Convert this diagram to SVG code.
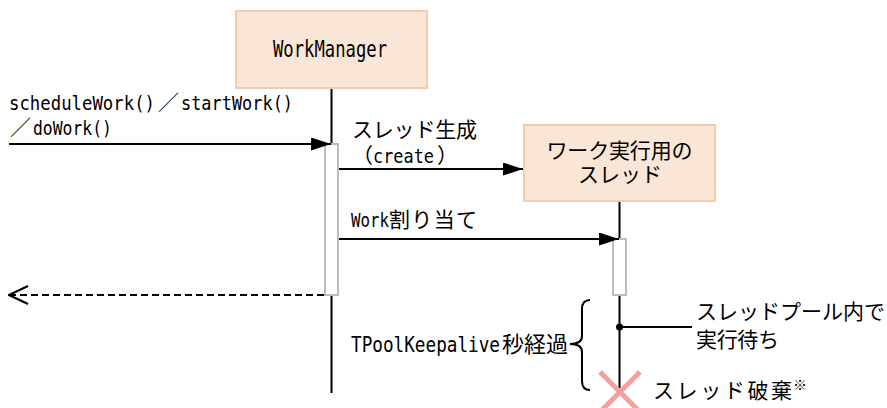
<svg xmlns="http://www.w3.org/2000/svg" width="887" height="408" viewBox="0 0 887 408">
<style>
.box{fill:#fae6d6;stroke:#efcdae;stroke-width:2}
.ln{stroke:#000;stroke-width:2;fill:none}
.act{fill:#fff;stroke:#bdbdbd;stroke-width:2}
.t{font-family:"Noto Sans CJK JP","DejaVu Sans",sans-serif;font-size:21px;fill:#000}
.m{font-family:"DejaVu Sans Mono","Noto Sans CJK JP",monospace;font-size:19px}
</style>
<defs>
<marker id="fa" markerUnits="userSpaceOnUse" markerWidth="20" markerHeight="13" refX="20" refY="6.5" orient="auto">
<path d="M0,0 L20,6.5 L0,13 z" fill="#000"/>
</marker>
<marker id="oa" markerUnits="userSpaceOnUse" markerWidth="22" markerHeight="22" refX="21" refY="11" orient="auto">
<path d="M2,2 L21,11 L2,20" fill="none" stroke="#000" stroke-width="2"/>
</marker>
</defs>

<g id="lifelines">
<line class="ln" x1="331.5" y1="88" x2="331.5" y2="393"/>
<line class="ln" x1="619.5" y1="201" x2="619.5" y2="392"/>
</g>

<g id="workmanager">
<rect class="box" x="236" y="11" width="191" height="77"/>
<text class="t m" x="273" y="57" style="font-size:23px" textLength="114" lengthAdjust="spacingAndGlyphs">WorkManager</text>
<rect class="act" x="325" y="144" width="13" height="151"/>
</g>

<g id="thread">
<rect class="box" x="524" y="125" width="191" height="76"/>
<text class="t" x="619.5" y="158" text-anchor="middle" textLength="146" lengthAdjust="spacing">ワーク実行用の</text>
<text class="t" x="620" y="182" text-anchor="middle" textLength="84" lengthAdjust="spacing">スレッド</text>
<rect class="act" x="613" y="239" width="13" height="56"/>
</g>

<g id="connectors">
<line class="ln" x1="9" y1="144" x2="331" y2="144" marker-end="url(#fa)"/>
<line class="ln" x1="339" y1="169" x2="523" y2="169" marker-end="url(#fa)"/>
<line class="ln" x1="339" y1="239" x2="619" y2="239" marker-end="url(#fa)"/>
<line class="ln" x1="324" y1="295" x2="9" y2="295" stroke-dasharray="7,4" marker-end="url(#oa)"/>
<line class="ln" x1="619.5" y1="327" x2="692" y2="327"/>
<circle cx="619.5" cy="327" r="3.5" fill="#000"/>
<path class="ln" d="M590,300 Q582,300 582,309 L582,336 Q582,344 570,344 Q582,344 582,352 L582,381 Q582,390 590,390"/>
</g>

<g id="destroy">
<line x1="600" y1="372" x2="640" y2="412" stroke="#f5a0a0" stroke-width="5"/>
<line x1="640" y1="372" x2="600" y2="412" stroke="#f5a0a0" stroke-width="5"/>
</g>

<g id="labels">
<text class="t" y="110"><tspan class="m" x="9" textLength="146" lengthAdjust="spacingAndGlyphs">scheduleWork()</tspan><tspan x="158">／</tspan><tspan class="m" x="181" textLength="112" lengthAdjust="spacingAndGlyphs">startWork()</tspan></text>
<text class="t" y="135"><tspan x="10">／</tspan><tspan class="m" x="33" textLength="79" lengthAdjust="spacingAndGlyphs">doWork()</tspan></text>
<text class="t" x="352" y="137" textLength="125" lengthAdjust="spacing">スレッド生成</text>
<text class="t" y="163"><tspan x="352">（</tspan><tspan class="m" x="373" textLength="61" lengthAdjust="spacingAndGlyphs">create</tspan><tspan x="437">）</tspan></text>
<text class="t" y="227"><tspan class="m" x="351" textLength="38" lengthAdjust="spacingAndGlyphs">Work</tspan><tspan x="389" textLength="88" lengthAdjust="spacing">割り当て</tspan></text>
<text class="t" y="352"><tspan class="m" x="351" style="font-size:21.5px" textLength="149" lengthAdjust="spacingAndGlyphs">TPoolKeepalive</tspan><tspan x="502" style="font-size:22px">秒経過</tspan></text>
<text class="t" x="696" y="319" textLength="189" lengthAdjust="spacing">スレッドプール内で</text>
<text class="t" x="696" y="347" textLength="83" lengthAdjust="spacing">実行待ち</text>
<text class="t" y="398"><tspan x="653" textLength="139" lengthAdjust="spacing">スレッド破棄</tspan><tspan x="793" dy="-8" style="font-size:14px">※</tspan></text>
</g>
</svg>
